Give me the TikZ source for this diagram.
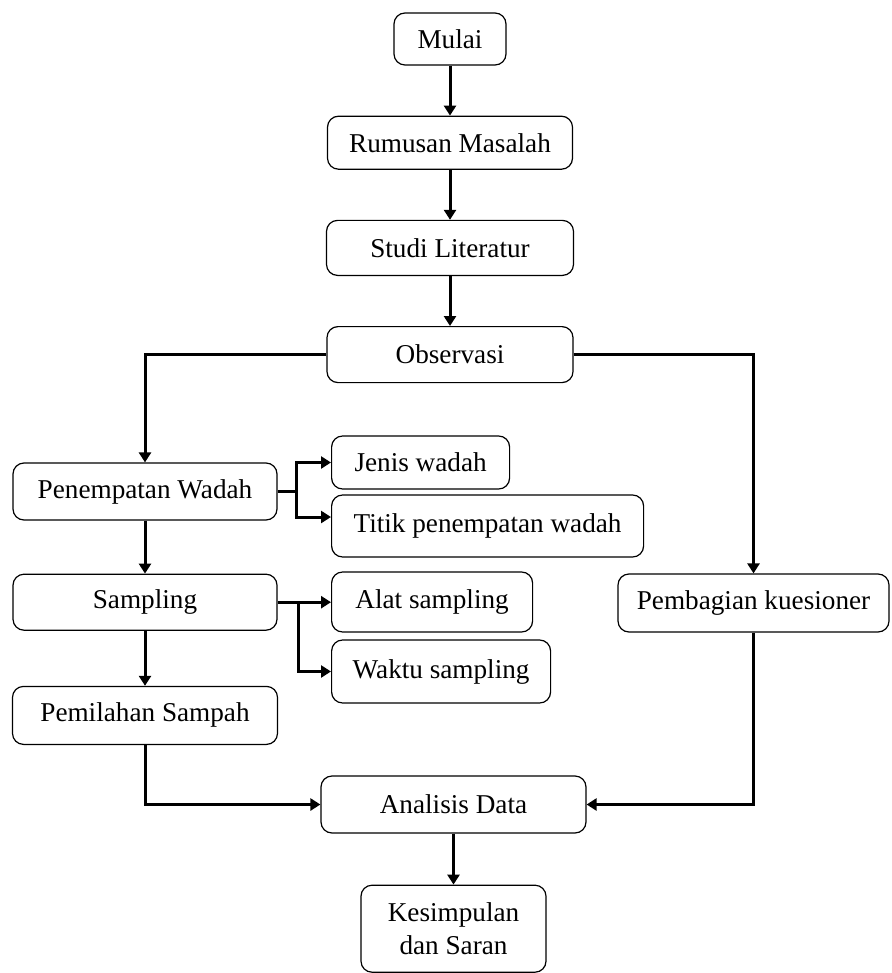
\documentclass[tikz,border=0pt]{standalone}
\usepackage{fontspec}
\setmainfont{Liberation Serif}
\usetikzlibrary{positioning, arrows.meta}

\begin{document}
\begin{tikzpicture}[
    x=0.5pt, y=-0.5pt,
    node distance=25pt,
    box/.style={rectangle, draw, line width=0.6pt, rounded corners=5.5pt, align=center, inner sep=2pt, font=\fontsize{13.6}{16.5}\selectfont},
    arrow/.style={-{Triangle[length=5pt, width=6pt]}, line width=1.5pt},
    link/.style={line width=1.5pt}
]
\useasboundingbox (0,0) rectangle (891,973);

% Main column
\node (mulai) [box, minimum width=56pt, minimum height=26pt] at (450,39) {Mulai};
\node (rumusan) [box, minimum width=122.5pt, minimum height=26.5pt, below=of mulai] {Rumusan Masalah};
\node (studi) [box, minimum width=123.5pt, minimum height=27.5pt, below=of rumusan] {Studi Literatur};
\node (observasi) [box, minimum width=123pt, minimum height=28pt, below=of studi] {Observasi};

% Left column
\node (penempatan) [box, minimum width=132pt, minimum height=28.5pt] at (145,491.5) {Penempatan Wadah};
\node (sampling) [box, minimum width=132pt, minimum height=28pt, below=26.5pt of penempatan] {Sampling};
\node (pemilahan) [box, minimum width=132.5pt, minimum height=29pt, below=27.5pt of sampling] {Pemilahan Sampah};

% Details
\node (jenis) [box, minimum width=89pt, minimum height=26.5pt, anchor=west] at (331,462.5) {Jenis wadah};
\node (titik) [box, minimum width=156pt, minimum height=31pt, anchor=west] at (331,526) {Titik penempatan wadah};
\node (alat) [box, minimum width=100.5pt, minimum height=30pt, anchor=west] at (331,602) {Alat sampling};
\node (waktu) [box, minimum width=109.5pt, minimum height=31.5pt, anchor=west] at (331,671.5) {Waktu sampling};

% Right column
\node (pembagian) [box, minimum width=135.5pt, minimum height=29pt] at (753.5,603) {Pembagian kuesioner};

% End
\node (analisis) [box, minimum width=132.5pt, minimum height=28.5pt] at (453.5,804.5) {Analisis Data};
\node (kesimpulan) [box, minimum width=92.5pt, minimum height=43.5pt, below=25.5pt of analisis] {Kesimpulan\\dan Saran};

% Arrows
\draw[arrow] (mulai) -- (rumusan);
\draw[arrow] (rumusan) -- (studi);
\draw[arrow] (studi) -- (observasi);
\draw[arrow] (observasi.west) -| (penempatan.north);
\draw[arrow] (observasi.east) -| (pembagian.north);

\draw[link] (penempatan.east) -- ++(19,0) coordinate (pj);
\draw[arrow] (pj) |- (jenis.west);
\draw[arrow] (pj) |- ([yshift=4.5pt]titik.west);

\draw[arrow] (penempatan) -- (sampling);
\draw[arrow] (sampling.east) -- (sampling.east -| alat.west);
\path (sampling.east) ++(21,0) coordinate (sj);
\draw[arrow] (sj) |- (waktu.west);

\draw[arrow] (sampling) -- (pemilahan);
\draw[arrow] (pemilahan.south) |- (analisis.west);
\draw[arrow] (pembagian.south) |- (analisis.east);
\draw[arrow] (analisis) -- (kesimpulan);

\end{tikzpicture}
\end{document}
